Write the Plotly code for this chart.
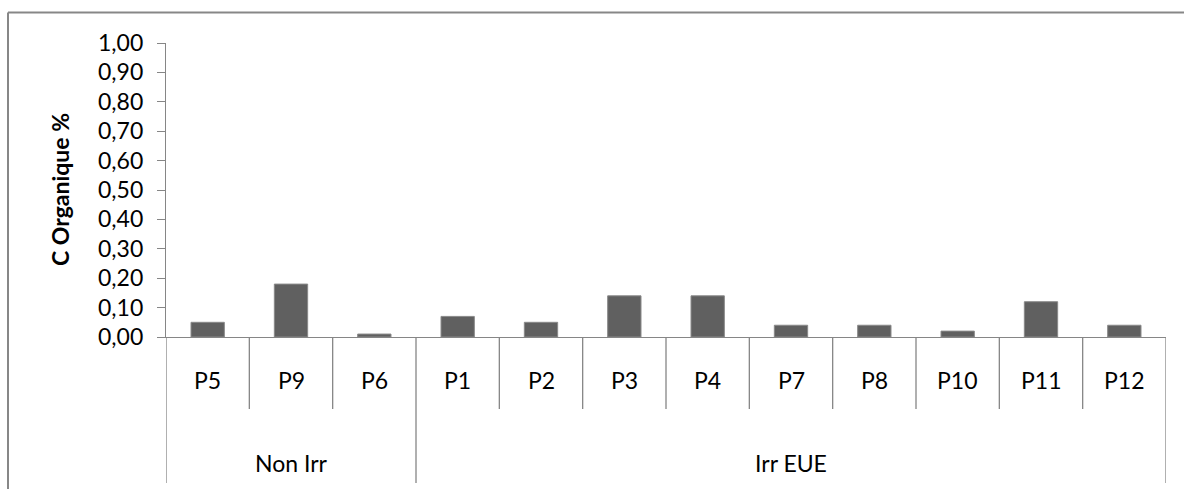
import plotly.graph_objects as go

# Soil organic carbon per plot, grouped by irrigation regime
groups = ["Non Irr", "Non Irr", "Non Irr",
          "Irr EUE", "Irr EUE", "Irr EUE", "Irr EUE", "Irr EUE",
          "Irr EUE", "Irr EUE", "Irr EUE", "Irr EUE"]
plots = ["P5", "P9", "P6", "P1", "P2", "P3", "P4", "P7", "P8", "P10", "P11", "P12"]
c_org = [0.05, 0.18, 0.01, 0.07, 0.05, 0.14, 0.14, 0.04, 0.04, 0.02, 0.12, 0.04]
y_ticks = [0.0, 0.1, 0.2, 0.3, 0.4, 0.5, 0.6, 0.7, 0.8, 0.9, 1.0]

FONT = "Lato, Carlito, Calibri, sans-serif"
FSIZE = 23
AXIS_GREY = "#868686"
BORDER_GREY = "#878787"
BAR_GREY = "#606060"

# plot-area geometry in pixels (page is 1184 x 489)
W, H = 1184, 489
L, R, T, B = 166, 18, 43, 152
pw, ph = W - L - R, H - T - B


def px_to_paper_y(py):
    return (H - B - py) / ph


def px_to_paper_x(px):
    return (px - L) / pw


fig = go.Figure(go.Bar(
    x=plots, y=c_org, width=0.4,
    marker=dict(color=BAR_GREY, line=dict(color="#8a8a8a", width=1)),
))

shapes = []
annotations = []

row1_y = px_to_paper_y(380)
row2_y = px_to_paper_y(463)
sep_short = px_to_paper_y(409)
sep_long = px_to_paper_y(483)

label_font = dict(size=FSIZE, color="black", family=FONT)

# category labels
for i, p in enumerate(plots):
    annotations.append(dict(x=i, y=row1_y, xref="x", yref="paper", text=p,
                            xanchor="center", yanchor="middle",
                            showarrow=False, font=label_font))

# separators between categories; group boundaries run down through the group row
n = len(plots)
for i in range(n + 1):
    bound = i - 0.5
    is_group_edge = i == 0 or i == n or groups[i] != groups[i - 1]
    shapes.append(dict(type="line", xref="x", yref="paper", x0=bound, x1=bound,
                       y0=0, y1=sep_long if is_group_edge else sep_short,
                       line=dict(color=AXIS_GREY, width=1.3)))

# group labels centred under their members
start = 0
for i in range(1, n + 1):
    if i == n or groups[i] != groups[start]:
        annotations.append(dict(x=(start + i - 1) / 2, y=row2_y, xref="x", yref="paper",
                                text=groups[start], xanchor="center", yanchor="middle",
                                showarrow=False, font=label_font))
        start = i

# y-axis title
annotations.append(dict(x=px_to_paper_x(60), y=px_to_paper_y(190), xref="paper", yref="paper",
                        text="<b>C Organique %</b>", textangle=-90, showarrow=False,
                        xanchor="center", yanchor="middle", font=label_font))

# chart frame (left and top edges visible)
fx0 = px_to_paper_x(8)
fy1 = px_to_paper_y(12.5)
shapes.append(dict(type="line", xref="paper", yref="paper", x0=fx0, x1=fx0,
                   y0=fy1, y1=px_to_paper_y(H + 10), line=dict(color=BORDER_GREY, width=2)))
shapes.append(dict(type="line", xref="paper", yref="paper", x0=fx0, x1=px_to_paper_x(W + 10),
                   y0=fy1, y1=fy1, line=dict(color=BORDER_GREY, width=2)))

fig.update_layout(
    width=W, height=H,
    margin=dict(l=L, r=R, t=T, b=B, pad=0),
    paper_bgcolor="white", plot_bgcolor="white",
    separators=", ",
    showlegend=False,
    font=dict(family=FONT, size=FSIZE, color="black"),
    xaxis=dict(type="category", range=[-0.5, n - 0.5], showticklabels=False,
               ticks="", showgrid=False, zeroline=False,
               showline=True, linecolor=AXIS_GREY, linewidth=1.3),
    yaxis=dict(range=[0, 1.0], tickvals=y_ticks, tickformat=".2f",
               ticks="outside", ticklen=8, tickcolor=AXIS_GREY, tickwidth=1.3,
               showline=True, linecolor=AXIS_GREY, linewidth=1.3,
               showgrid=False, zeroline=False, ticklabelstandoff=9,
               tickfont=label_font),
    shapes=shapes,
    annotations=annotations,
)

fig.write_html("out.html")
